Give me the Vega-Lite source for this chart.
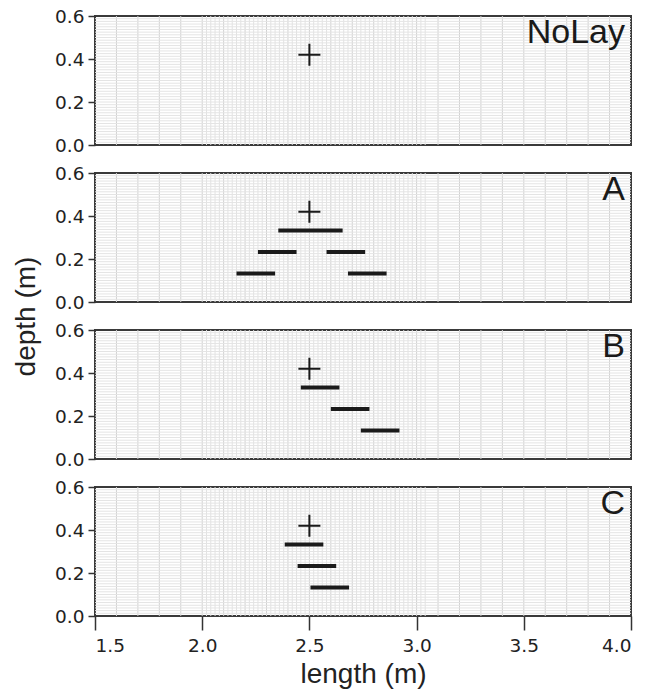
{
  "$schema": "https://vega.github.io/schema/vega-lite/v6.json",
  "padding": {"left": 11, "top": 6, "right": 0, "bottom": 5},
  "config": {
    "font": "Liberation Sans",
    "view": {"stroke": "#3a3a3a", "strokeWidth": 2},
    "axis": {"labelColor": "#222222", "tickColor": "#333333", "tickWidth": 1.5, "domain": false, "grid": false, "titleFontWeight": "normal", "titleColor": "#222222"}
  },
  "datasets": {
    "gxMajor": [{"v":1.6},{"v":1.7},{"v":1.8},{"v":1.9},{"v":2.0},{"v":2.1},{"v":2.2},{"v":2.3},{"v":2.4},{"v":2.5},{"v":2.6},{"v":2.7},{"v":2.8},{"v":2.9},{"v":3.0},{"v":3.1},{"v":3.2},{"v":3.3},{"v":3.4},{"v":3.5},{"v":3.6},{"v":3.7},{"v":3.8},{"v":3.9}],
    "gxMinor": [{"v":2.02},{"v":2.04},{"v":2.06},{"v":2.08},{"v":2.12},{"v":2.14},{"v":2.16},{"v":2.18},{"v":2.22},{"v":2.24},{"v":2.26},{"v":2.28},{"v":2.32},{"v":2.34},{"v":2.36},{"v":2.38},{"v":2.42},{"v":2.44},{"v":2.46},{"v":2.48},{"v":2.52},{"v":2.54},{"v":2.56},{"v":2.58},{"v":2.62},{"v":2.64},{"v":2.66},{"v":2.68},{"v":2.72},{"v":2.74},{"v":2.76},{"v":2.78},{"v":2.82},{"v":2.84},{"v":2.86},{"v":2.88},{"v":2.92},{"v":2.94},{"v":2.96},{"v":2.98},{"v":3.02},{"v":3.04}],
    "gy": [{"v":0.0125},{"v":0.025},{"v":0.0375},{"v":0.05},{"v":0.0625},{"v":0.075},{"v":0.0875},{"v":0.1},{"v":0.1125},{"v":0.125},{"v":0.1375},{"v":0.15},{"v":0.1625},{"v":0.175},{"v":0.1875},{"v":0.2},{"v":0.2125},{"v":0.225},{"v":0.2375},{"v":0.25},{"v":0.2625},{"v":0.275},{"v":0.2875},{"v":0.3},{"v":0.3125},{"v":0.325},{"v":0.3375},{"v":0.35},{"v":0.3625},{"v":0.375},{"v":0.3875},{"v":0.4},{"v":0.4125},{"v":0.425},{"v":0.4375},{"v":0.45},{"v":0.4625},{"v":0.475},{"v":0.4875},{"v":0.5},{"v":0.5125},{"v":0.525},{"v":0.5375},{"v":0.55},{"v":0.5625},{"v":0.575},{"v":0.5875}],
    "bars": [
      {"panel":"A","x1":2.355,"x2":2.655,"y":0.333},
      {"panel":"A","x1":2.26,"x2":2.44,"y":0.233},
      {"panel":"A","x1":2.58,"x2":2.76,"y":0.233},
      {"panel":"A","x1":2.16,"x2":2.34,"y":0.133},
      {"panel":"A","x1":2.68,"x2":2.86,"y":0.133},
      {"panel":"B","x1":2.46,"x2":2.64,"y":0.333},
      {"panel":"B","x1":2.60,"x2":2.78,"y":0.233},
      {"panel":"B","x1":2.74,"x2":2.92,"y":0.133},
      {"panel":"C","x1":2.385,"x2":2.565,"y":0.333},
      {"panel":"C","x1":2.445,"x2":2.625,"y":0.233},
      {"panel":"C","x1":2.505,"x2":2.685,"y":0.133}
    ],
    "plus": [
      {"panel":"NoLay","x":2.5,"y":0.42},
      {"panel":"A","x":2.5,"y":0.42},
      {"panel":"B","x":2.5,"y":0.42},
      {"panel":"C","x":2.5,"y":0.42}
    ],
    "labels": [
      {"panel":"NoLay","label":"NoLay"},
      {"panel":"A","label":"A"},
      {"panel":"B","label":"B"},
      {"panel":"C","label":"C"}
    ]
  },
  "bounds": "flush",
  "spacing": 28,
  "vconcat": [
    {
      "width": 536, "height": 129,
      "layer": [
        {"data":{"name":"gxMinor"},"mark":{"type":"rule","color":"#e2e2e2","strokeWidth":1},"encoding":{"x":{"field":"v","type":"quantitative","scale":{"domain":[1.5,4],"nice":false},"axis":null}}},
        {"data":{"name":"gxMajor"},"mark":{"type":"rule","color":"#d0d0d0","strokeWidth":1},"encoding":{"x":{"field":"v","type":"quantitative","axis":null}}},
        {"data":{"name":"gy"},"mark":{"type":"rule","color":"#e4e4e4","strokeWidth":1},"encoding":{"y":{"field":"v","type":"quantitative","scale":{"domain":[0,0.6],"nice":false},"axis":{"values":[0,0.2,0.4,0.6],"format":".1f","title":null,"tickSize":7,"labelPadding":4,"labelFontSize":18.5,"labelFont":"DejaVu Sans"}}}},
        {"data":{"name":"plus"},"transform":[{"filter":"datum.panel==='NoLay'"}],"mark":{"type":"point","shape":"M-1,0H1M0,-1V1","size":484,"filled":false,"stroke":"#1a1a1a","strokeWidth":2,"opacity":1},"encoding":{"x":{"field":"x","type":"quantitative","axis":null},"y":{"field":"y","type":"quantitative","axis":{"values":[0,0.2,0.4,0.6],"format":".1f","title":null,"tickSize":7,"labelPadding":4,"labelFontSize":18.5,"labelFont":"DejaVu Sans"}}}},
        {"data":{"name":"labels"},"transform":[{"filter":"datum.panel==='NoLay'"}],"mark":{"type":"text","align":"right","baseline":"top","fontSize":34,"color":"#1a1a1a","dx":-6,"dy":0},"encoding":{"x":{"datum":4,"type":"quantitative","axis":null},"y":{"datum":0.6,"type":"quantitative","axis":{"values":[0,0.2,0.4,0.6],"format":".1f","title":null,"tickSize":7,"labelPadding":4,"labelFontSize":18.5,"labelFont":"DejaVu Sans"}},"text":{"field":"label"}}}
      ]
    },
    {
      "width": 536, "height": 129,
      "layer": [
        {"data":{"name":"gxMinor"},"mark":{"type":"rule","color":"#e2e2e2","strokeWidth":1},"encoding":{"x":{"field":"v","type":"quantitative","scale":{"domain":[1.5,4],"nice":false},"axis":null}}},
        {"data":{"name":"gxMajor"},"mark":{"type":"rule","color":"#d0d0d0","strokeWidth":1},"encoding":{"x":{"field":"v","type":"quantitative","axis":null}}},
        {"data":{"name":"gy"},"mark":{"type":"rule","color":"#e4e4e4","strokeWidth":1},"encoding":{"y":{"field":"v","type":"quantitative","scale":{"domain":[0,0.6],"nice":false},"axis":{"values":[0,0.2,0.4,0.6],"format":".1f","title":"depth (m)","titleY":143,"titlePadding":14,"titleFontSize":28,"tickSize":7,"labelPadding":4,"labelFontSize":18.5,"labelFont":"DejaVu Sans"}}}},
        {"data":{"name":"bars"},"transform":[{"filter":"datum.panel==='A'"}],"mark":{"type":"rule","color":"#1a1a1a","strokeWidth":4,"strokeCap":"butt"},"encoding":{"x":{"field":"x1","type":"quantitative","axis":null},"x2":{"field":"x2"},"y":{"field":"y","type":"quantitative","axis":{"values":[0,0.2,0.4,0.6],"format":".1f","title":"depth (m)","titleY":143,"titlePadding":14,"titleFontSize":28,"tickSize":7,"labelPadding":4,"labelFontSize":18.5,"labelFont":"DejaVu Sans"}}}},
        {"data":{"name":"plus"},"transform":[{"filter":"datum.panel==='A'"}],"mark":{"type":"point","shape":"M-1,0H1M0,-1V1","size":484,"filled":false,"stroke":"#1a1a1a","strokeWidth":2,"opacity":1},"encoding":{"x":{"field":"x","type":"quantitative","axis":null},"y":{"field":"y","type":"quantitative","axis":{"values":[0,0.2,0.4,0.6],"format":".1f","title":"depth (m)","titleY":143,"titlePadding":14,"titleFontSize":28,"tickSize":7,"labelPadding":4,"labelFontSize":18.5,"labelFont":"DejaVu Sans"}}}},
        {"data":{"name":"labels"},"transform":[{"filter":"datum.panel==='A'"}],"mark":{"type":"text","align":"right","baseline":"top","fontSize":34,"color":"#1a1a1a","dx":-6,"dy":0},"encoding":{"x":{"datum":4,"type":"quantitative","axis":null},"y":{"datum":0.6,"type":"quantitative","axis":{"values":[0,0.2,0.4,0.6],"format":".1f","title":"depth (m)","titleY":143,"titlePadding":14,"titleFontSize":28,"tickSize":7,"labelPadding":4,"labelFontSize":18.5,"labelFont":"DejaVu Sans"}},"text":{"field":"label"}}}
      ]
    },
    {
      "width": 536, "height": 129,
      "layer": [
        {"data":{"name":"gxMinor"},"mark":{"type":"rule","color":"#e2e2e2","strokeWidth":1},"encoding":{"x":{"field":"v","type":"quantitative","scale":{"domain":[1.5,4],"nice":false},"axis":null}}},
        {"data":{"name":"gxMajor"},"mark":{"type":"rule","color":"#d0d0d0","strokeWidth":1},"encoding":{"x":{"field":"v","type":"quantitative","axis":null}}},
        {"data":{"name":"gy"},"mark":{"type":"rule","color":"#e4e4e4","strokeWidth":1},"encoding":{"y":{"field":"v","type":"quantitative","scale":{"domain":[0,0.6],"nice":false},"axis":{"values":[0,0.2,0.4,0.6],"format":".1f","title":null,"tickSize":7,"labelPadding":4,"labelFontSize":18.5,"labelFont":"DejaVu Sans"}}}},
        {"data":{"name":"bars"},"transform":[{"filter":"datum.panel==='B'"}],"mark":{"type":"rule","color":"#1a1a1a","strokeWidth":4,"strokeCap":"butt"},"encoding":{"x":{"field":"x1","type":"quantitative","axis":null},"x2":{"field":"x2"},"y":{"field":"y","type":"quantitative","axis":{"values":[0,0.2,0.4,0.6],"format":".1f","title":null,"tickSize":7,"labelPadding":4,"labelFontSize":18.5,"labelFont":"DejaVu Sans"}}}},
        {"data":{"name":"plus"},"transform":[{"filter":"datum.panel==='B'"}],"mark":{"type":"point","shape":"M-1,0H1M0,-1V1","size":484,"filled":false,"stroke":"#1a1a1a","strokeWidth":2,"opacity":1},"encoding":{"x":{"field":"x","type":"quantitative","axis":null},"y":{"field":"y","type":"quantitative","axis":{"values":[0,0.2,0.4,0.6],"format":".1f","title":null,"tickSize":7,"labelPadding":4,"labelFontSize":18.5,"labelFont":"DejaVu Sans"}}}},
        {"data":{"name":"labels"},"transform":[{"filter":"datum.panel==='B'"}],"mark":{"type":"text","align":"right","baseline":"top","fontSize":34,"color":"#1a1a1a","dx":-6,"dy":0},"encoding":{"x":{"datum":4,"type":"quantitative","axis":null},"y":{"datum":0.6,"type":"quantitative","axis":{"values":[0,0.2,0.4,0.6],"format":".1f","title":null,"tickSize":7,"labelPadding":4,"labelFontSize":18.5,"labelFont":"DejaVu Sans"}},"text":{"field":"label"}}}
      ]
    },
    {
      "width": 536, "height": 129,
      "layer": [
        {"data":{"name":"gxMinor"},"mark":{"type":"rule","color":"#e2e2e2","strokeWidth":1},"encoding":{"x":{"field":"v","type":"quantitative","scale":{"domain":[1.5,4],"nice":false},"axis":{"values":[1.5,2,2.5,3,3.5,4],"format":".1f","title":"length (m)","tickSize":14,"labelPadding":6,"titlePadding":6,"labelFontSize":18.5,"labelFont":"DejaVu Sans","titleFontSize":28}}}},
        {"data":{"name":"gxMajor"},"mark":{"type":"rule","color":"#d0d0d0","strokeWidth":1},"encoding":{"x":{"field":"v","type":"quantitative","axis":{"values":[1.5,2,2.5,3,3.5,4],"format":".1f","title":"length (m)","tickSize":14,"labelPadding":6,"titlePadding":6,"labelFontSize":18.5,"labelFont":"DejaVu Sans","titleFontSize":28}}}},
        {"data":{"name":"gy"},"mark":{"type":"rule","color":"#e4e4e4","strokeWidth":1},"encoding":{"y":{"field":"v","type":"quantitative","scale":{"domain":[0,0.6],"nice":false},"axis":{"values":[0,0.2,0.4,0.6],"format":".1f","title":null,"tickSize":7,"labelPadding":4,"labelFontSize":18.5,"labelFont":"DejaVu Sans"}}}},
        {"data":{"name":"bars"},"transform":[{"filter":"datum.panel==='C'"}],"mark":{"type":"rule","color":"#1a1a1a","strokeWidth":4,"strokeCap":"butt"},"encoding":{"x":{"field":"x1","type":"quantitative","axis":{"values":[1.5,2,2.5,3,3.5,4],"format":".1f","title":"length (m)","tickSize":14,"labelPadding":6,"titlePadding":6,"labelFontSize":18.5,"labelFont":"DejaVu Sans","titleFontSize":28}},"x2":{"field":"x2"},"y":{"field":"y","type":"quantitative","axis":{"values":[0,0.2,0.4,0.6],"format":".1f","title":null,"tickSize":7,"labelPadding":4,"labelFontSize":18.5,"labelFont":"DejaVu Sans"}}}},
        {"data":{"name":"plus"},"transform":[{"filter":"datum.panel==='C'"}],"mark":{"type":"point","shape":"M-1,0H1M0,-1V1","size":484,"filled":false,"stroke":"#1a1a1a","strokeWidth":2,"opacity":1},"encoding":{"x":{"field":"x","type":"quantitative","axis":{"values":[1.5,2,2.5,3,3.5,4],"format":".1f","title":"length (m)","tickSize":14,"labelPadding":6,"titlePadding":6,"labelFontSize":18.5,"labelFont":"DejaVu Sans","titleFontSize":28}},"y":{"field":"y","type":"quantitative","axis":{"values":[0,0.2,0.4,0.6],"format":".1f","title":null,"tickSize":7,"labelPadding":4,"labelFontSize":18.5,"labelFont":"DejaVu Sans"}}}},
        {"data":{"name":"labels"},"transform":[{"filter":"datum.panel==='C'"}],"mark":{"type":"text","align":"right","baseline":"top","fontSize":34,"color":"#1a1a1a","dx":-6,"dy":0},"encoding":{"x":{"datum":4,"type":"quantitative","axis":{"values":[1.5,2,2.5,3,3.5,4],"format":".1f","title":"length (m)","tickSize":14,"labelPadding":6,"titlePadding":6,"labelFontSize":18.5,"labelFont":"DejaVu Sans","titleFontSize":28}},"y":{"datum":0.6,"type":"quantitative","axis":{"values":[0,0.2,0.4,0.6],"format":".1f","title":null,"tickSize":7,"labelPadding":4,"labelFontSize":18.5,"labelFont":"DejaVu Sans"}},"text":{"field":"label"}}}
      ]
    }
  ]
}
